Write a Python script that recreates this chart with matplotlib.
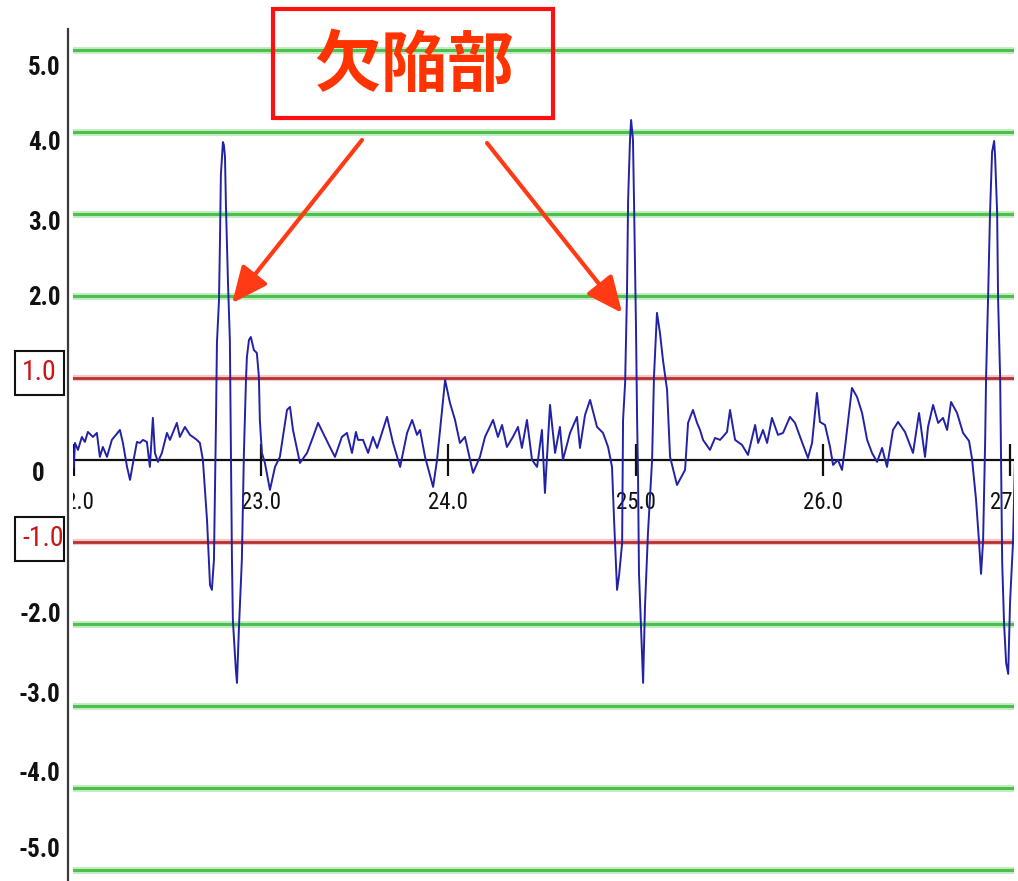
import matplotlib
matplotlib.use("Agg")
import matplotlib.pyplot as plt
from matplotlib.patches import Rectangle
from matplotlib import font_manager


def pick_font(names):
    for name in names:
        try:
            font_manager.findfont(font_manager.FontProperties(family=name),
                                  fallback_to_default=False)
            return name
        except Exception:
            pass
    return "DejaVu Sans"


NARROW = pick_font(["Liberation Sans Narrow", "Roboto Condensed", "DejaVu Sans"])

# ---- signal (time, amplitude) ----
time = [
    22.000, 22.007, 22.023, 22.044, 22.060, 22.076, 22.103, 22.124, 22.140, 22.156,
    22.178, 22.204, 22.247, 22.263, 22.285, 22.301, 22.317, 22.338, 22.354, 22.370,
    22.391, 22.407, 22.423, 22.434, 22.450, 22.471, 22.498, 22.514, 22.551, 22.567,
    22.594, 22.621, 22.637, 22.658, 22.674, 22.690, 22.712, 22.728, 22.738, 22.749,
    22.760, 22.765, 22.776, 22.781, 22.786, 22.797, 22.802, 22.808, 22.813, 22.824,
    22.834, 22.840, 22.845, 22.850, 22.866, 22.872, 22.882, 22.898, 22.909, 22.920,
    22.925, 22.936, 22.946, 22.962, 22.978, 22.989, 22.994, 23.005, 23.021, 23.048,
    23.075, 23.101, 23.139, 23.155, 23.171, 23.208, 23.246, 23.278, 23.305, 23.331,
    23.368, 23.395, 23.432, 23.459, 23.486, 23.507, 23.518, 23.545, 23.572, 23.598,
    23.620, 23.673, 23.705, 23.743, 23.780, 23.807, 23.833, 23.849, 23.876, 23.919,
    23.940, 23.983, 24.009, 24.036, 24.062, 24.089, 24.132, 24.169, 24.196, 24.239,
    24.265, 24.287, 24.313, 24.345, 24.372, 24.393, 24.420, 24.447, 24.474, 24.500,
    24.516, 24.527, 24.543, 24.570, 24.596, 24.612, 24.650, 24.687, 24.703, 24.730,
    24.757, 24.794, 24.826, 24.853, 24.874, 24.885, 24.901, 24.912, 24.928, 24.933,
    24.944, 24.954, 24.960, 24.970, 24.976, 24.986, 24.992, 25.002, 25.008, 25.013,
    25.018, 25.034, 25.040, 25.050, 25.066, 25.088, 25.098, 25.114, 25.130, 25.146,
    25.168, 25.184, 25.221, 25.264, 25.280, 25.306, 25.328, 25.344, 25.360, 25.397,
    25.424, 25.451, 25.488, 25.504, 25.531, 25.568, 25.600, 25.638, 25.654, 25.680,
    25.702, 25.728, 25.760, 25.787, 25.824, 25.851, 25.888, 25.920, 25.942, 25.968,
    25.984, 26.011, 26.038, 26.054, 26.080, 26.102, 26.118, 26.155, 26.182, 26.209,
    26.236, 26.262, 26.289, 26.316, 26.342, 26.374, 26.401, 26.438, 26.481, 26.513,
    26.545, 26.561, 26.588, 26.615, 26.641, 26.663, 26.684, 26.716, 26.748, 26.780,
    26.796, 26.817, 26.833, 26.844, 26.855, 26.866, 26.871, 26.882, 26.892, 26.903,
    26.914, 26.919, 26.930, 26.935, 26.946, 26.951, 26.957, 26.967, 26.978, 26.989,
    26.999, 27.015, 27.026,
]
amplitude = [
    -0.085, 0.207, 0.122, 0.280, 0.219, 0.341, 0.280, 0.329, 0.037, 0.158,
    0.037, 0.244, 0.365, 0.207, -0.085, -0.243, -0.037, 0.219, 0.207, 0.244,
    0.219, -0.085, 0.512, 0.085, -0.024, 0.085, 0.329, 0.244, 0.451, 0.280,
    0.402, 0.305, 0.280, 0.244, 0.207, 0.000, -0.731, -1.523, -1.583, -1.218,
    0.487, 1.425, 1.949, 2.643, 3.471, 3.873, 3.837, 3.691, 3.106, 2.156,
    1.462, 0.000, -1.181, -1.949, -2.558, -2.716, -2.071, -1.218, 0.085, 0.974,
    1.255, 1.462, 1.498, 1.340, 1.303, 1.011, 0.487, 0.085, -0.037, -0.365,
    -0.085, 0.037, 0.609, 0.646, 0.365, -0.037, 0.085, 0.280, 0.451, 0.329,
    0.158, 0.037, 0.280, 0.329, 0.085, 0.341, 0.244, 0.244, 0.085, 0.280,
    0.146, 0.524, 0.207, -0.085, 0.329, 0.487, 0.305, 0.365, 0.037, -0.329,
    0.000, 0.974, 0.694, 0.487, 0.207, 0.280, -0.158, 0.037, 0.280, 0.487,
    0.280, 0.426, 0.158, 0.280, 0.402, 0.146, 0.487, 0.000, -0.085, 0.365,
    -0.402, 0.037, 0.670, 0.085, 0.402, 0.000, 0.329, 0.524, 0.146, 0.548,
    0.731, 0.402, 0.329, 0.158, -0.085, -0.731, -1.583, -1.401, -1.011, 0.487,
    0.938, 2.034, 3.167, 3.898, 4.141, 3.898, 3.082, 1.620, 0.487, -0.207,
    -1.376, -2.351, -2.716, -1.791, -0.889, 0.000, 1.011, 1.791, 1.547, 1.218,
    0.853, 0.037, -0.305, -0.122, 0.451, 0.609, 0.451, 0.365, 0.244, 0.122,
    0.268, 0.244, 0.341, 0.609, 0.244, 0.183, 0.061, 0.426, 0.207, 0.365,
    0.207, 0.512, 0.305, 0.329, 0.524, 0.451, 0.219, 0.024, 0.207, 0.816,
    0.463, 0.426, 0.158, -0.061, 0.000, -0.122, 0.158, 0.877, 0.767, 0.572,
    0.244, 0.085, -0.024, 0.146, -0.085, 0.365, 0.463, 0.341, 0.085, 0.572,
    0.037, 0.402, 0.670, 0.451, 0.512, 0.365, 0.706, 0.572, 0.329, 0.231,
    0.012, -0.475, -0.987, -1.389, -0.987, 0.231, 1.011, 2.010, 3.009, 3.752,
    3.886, 3.703, 3.009, 1.961, 1.011, 0.012, -1.255, -1.998, -2.473, -2.607,
    -1.730, -0.987, 0.097,
]

# ---- reference levels and labels ----
green_levels = [5.0, 4.0, 3.0, 2.0, -2.0, -3.0, -4.0, -5.0]
red_levels = [1.0, -1.0]
ytick_values = [5, 4, 3, 2, 1, 0, -1, -2, -3, -4, -5]
ytick_labels = ["5.0", "4.0", "3.0", "2.0", "1.0", "0", "-1.0", "-2.0", "-3.0", "-4.0", "-5.0"]
xtick_values = [22.0, 23.0, 24.0, 25.0, 26.0, 27.0]
xtick_labels = ["22.0", "23.0", "24.0", "25.0", "26.0", "27.0"]
defect_label = "欠陥部"
defect_positions = [(22.846, 1.91), (24.928, 1.79)]

# ---- layout ----
W, H = 1018, 881
fig = plt.figure(figsize=(W / 100, H / 100), dpi=100)
fig.patch.set_facecolor("white")
left_px, right_px, top_px = 72.7, 1014.0, 29.0
ax = fig.add_axes([left_px / W, 0.0, (right_px - left_px) / W, (H - top_px) / H])
ax.set_xlim(21.995, 27.02)
ax.set_ylim(-5.13, 5.25)
ax.axis("off")

# left axis line
fig.add_artist(plt.Line2D([68 / W, 68 / W], [0, (H - top_px) / H],
                          transform=fig.transFigure, color="#3a3a3a", lw=1.6))

for v in green_levels:
    ax.axhline(v, color="#c4ecc4", lw=5.0, zorder=1)
    ax.axhline(v, color="#4cbf4c", lw=2.2, zorder=1.1)
for v in red_levels:
    ax.axhline(v, color="#f2c8c8", lw=4.5, zorder=1)
    ax.axhline(v, color="#b83030", lw=2.0, zorder=1.1)
ax.axhline(0.0, color="#101010", lw=1.6, zorder=2)

# x ticks and labels sit on the zero line
ax.vlines(xtick_values, -0.2, 0.2, color="#101010", lw=1.6, zorder=2)
for xv, lab in zip(xtick_values, xtick_labels):
    ax.text(xv, -0.52, lab, ha="center", va="center", fontsize=16.5,
            family=NARROW, color="#111111", clip_on=True, zorder=3)

# signal
ax.plot(time, amplitude, color="#2222a6", lw=1.4, zorder=4)

# y labels (drawn outside the plotting area)
label_shift_px = [18, 11, 9, 2, -5, 14, -4, -9, -11, -14, -20]
for v, lab, sh in zip(ytick_values, ytick_labels, label_shift_px):
    boxed = abs(v) == 1
    color = "#cc1414" if boxed else "#111111"
    weight = "normal" if boxed else "bold"
    if lab == "0":
        dx, ha = -35, "center"
    elif lab == "1.0":
        dx, ha = -33, "center"
    else:
        dx, ha = -9 if boxed else -12, "right"
    ax.annotate(lab, xy=(0, v), xycoords=("axes fraction", "data"),
                xytext=(dx * 0.72, -sh * 0.72), textcoords="offset points",
                ha=ha, va="center", fontsize=18 if not boxed else 20,
                fontweight=weight, family=NARROW, color=color,
                annotation_clip=False)

for top in (351, 517):
    fig.add_artist(Rectangle((15 / W, 1 - (top + 44) / H), 49 / W, 44 / H,
                             transform=fig.transFigure, fill=False,
                             ec="#111111", lw=1.5))

# defect callout
fig.add_artist(Rectangle((273 / W, 1 - 118 / H), 280 / W, 109 / H,
                         transform=fig.transFigure, fill=False,
                         ec="#ff1010", lw=3.0))
fig.text(414 / W, 1 - 66 / H, defect_label, ha="center", va="center",
         fontsize=48, fontweight="bold", color="#ff3300",
         family=["Noto Sans CJK JP", "DejaVu Sans"])

arrow_tails_px = [(362, 140), (487, 143)]
for (tx, ty), (px, py) in zip(defect_positions, arrow_tails_px):
    ax.annotate("", xy=(tx, ty), xycoords="data",
                xytext=(px / W, 1 - py / H), textcoords="figure fraction",
                arrowprops=dict(arrowstyle="-|>,head_length=1.0,head_width=0.45",
                                mutation_scale=22, lw=3.0, color="#ff3a14",
                                shrinkA=0, shrinkB=0),
                annotation_clip=False, zorder=6)

fig.savefig("out.png", dpi=100)
